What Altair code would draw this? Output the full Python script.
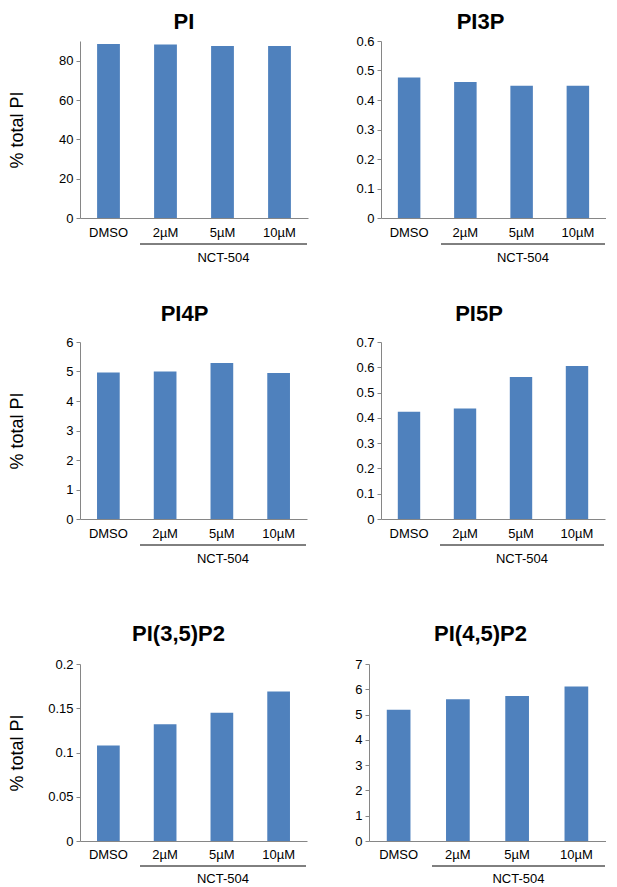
import altair as alt
import pandas as pd

FONT = "Liberation Sans"
BAR = "#4F81BD"
AXISC = "#868686"

categories = ["DMSO", "2µM", "5µM", "10µM"]
group_label = "NCT-504"
y_title = "% total PI"

pi_vals = [88.5, 88.2, 87.5, 87.5]
pi3p_vals = [0.476, 0.461, 0.448, 0.448]
pi4p_vals = [4.97, 5.0, 5.29, 4.95]
pi5p_vals = [0.424, 0.437, 0.562, 0.605]
pi35p2_vals = [0.108, 0.132, 0.145, 0.169]
pi45p2_vals = [5.19, 5.61, 5.73, 6.11]

pi_ticks = [0, 20, 40, 60, 80]
pi3p_ticks = [0, 0.1, 0.2, 0.3, 0.4, 0.5, 0.6]
pi4p_ticks = [0, 1, 2, 3, 4, 5, 6]
pi5p_ticks = [0, 0.1, 0.2, 0.3, 0.4, 0.5, 0.6, 0.7]
pi35p2_ticks = [0, 0.05, 0.1, 0.15, 0.2]
pi45p2_ticks = [0, 1, 2, 3, 4, 5, 6, 7]

pi_max, pi3p_max, pi4p_max, pi5p_max, pi35p2_max, pi45p2_max = 90, 0.6, 6, 0.7, 0.2, 7

H = 177


def panel(title, values, ticks, ymax, W, tpad, t_offset, t_dx, rule_y=26, text_y=40, lpad=8):
    df = pd.DataFrame({"cond": categories, "val": values})
    yaxis_kw = dict(values=ticks, format="~r", grid=False, tickSize=4, tickColor=AXISC,
                    domainColor=AXISC, labelPadding=3, labelFontSize=13, labelFont=FONT,
                    labelColor="black")
    if tpad is not None:
        yaxis_kw.update(title=y_title, titleFontSize=18, titleFont=FONT, titleFontWeight="normal",
                        titleColor="black", titlePadding=tpad)
    else:
        yaxis_kw.update(title=None)
    bars = alt.Chart(df).mark_bar(color=BAR).encode(
        x=alt.X("cond:N", sort=categories,
                scale=alt.Scale(paddingInner=0.6, paddingOuter=0.3),
                axis=alt.Axis(title=None, labelAngle=0, ticks=False, domainColor=AXISC,
                              labelFontSize=13, labelFont=FONT, labelColor="black",
                              labelPadding=lpad)),
        y=alt.Y("val:Q", scale=alt.Scale(domain=[0, ymax], nice=False),
                axis=alt.Axis(**yaxis_kw)),
    )
    ann = pd.DataFrame({"label": [group_label]})
    x0 = round(0.265 * W)
    x1 = W - 1
    rule = alt.Chart(ann).mark_rule(color="black", strokeWidth=1).encode(
        x=alt.value(x0), x2=alt.value(x1), y=alt.value(H + rule_y))
    txt = alt.Chart(ann).mark_text(fontSize=13, font=FONT, color="black",
                                   baseline="middle", align="center").encode(
        x=alt.value((x0 + x1) / 2), y=alt.value(H + text_y), text="label:N")
    return alt.layer(bars, rule, txt).properties(
        width=W, height=H,
        title=alt.TitleParams(text=title, fontSize=22, fontWeight="bold", font=FONT,
                              color="black", offset=t_offset, anchor="middle",
                              frame="group", dx=t_dx))


row1 = alt.hconcat(
    panel("PI", pi_vals, pi_ticks, pi_max, 228, 32, 7, -10),
    panel("PI3P", pi3p_vals, pi3p_ticks, pi3p_max, 225, None, 1, -13),
    spacing=47)
row2 = alt.hconcat(
    panel("PI4P", pi4p_vals, pi4p_ticks, pi4p_max, 227, 39, 10, -9),
    panel("PI5P", pi5p_vals, pi5p_ticks, pi5p_max, 224, None, 10, -14),
    spacing=48)
row3 = alt.hconcat(
    panel("PI(3,5)P2", pi35p2_vals, pi35p2_ticks, pi35p2_max, 227, 21, 12, -15, 25, 38, 7),
    panel("PI(4,5)P2", pi45p2_vals, pi45p2_ticks, pi45p2_max, 237, None, 12, -7, 25, 38, 7),
    spacing=47)

top = alt.vconcat(row1, row2, spacing=38)
chart = alt.vconcat(top, row3, spacing=57).properties(
    padding={"left": 0, "top": 3, "right": 0, "bottom": 0}
).configure_view(stroke=None)

chart.save("out.html", embed_options={"renderer": "svg", "actions": False})
